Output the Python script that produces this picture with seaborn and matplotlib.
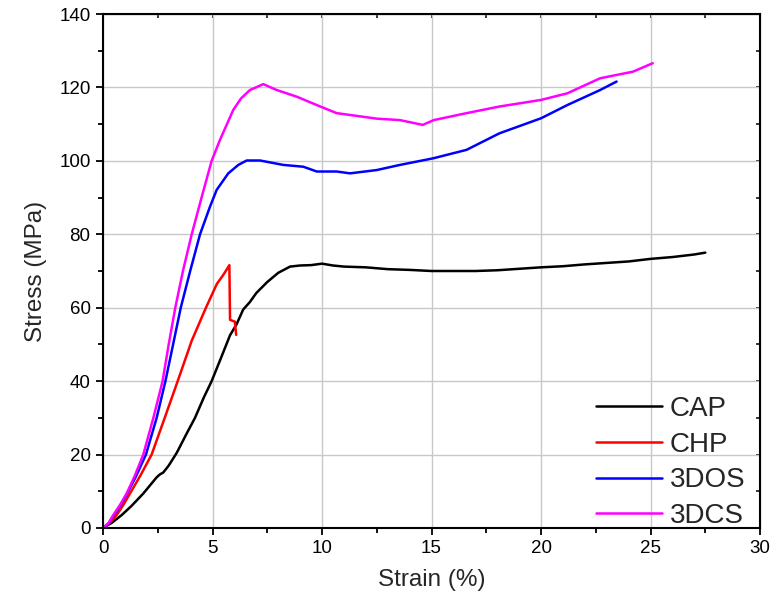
import pandas as pd
import matplotlib
matplotlib.use("Agg")
import matplotlib.pyplot as plt
import seaborn as sns
from matplotlib.ticker import MultipleLocator

# stress-strain curves
cap_strain = [0, 0.4, 0.85, 1.3, 1.84, 2.2, 2.45, 2.6, 2.75, 3.0, 3.37, 3.8, 4.2, 4.6, 4.96,
              5.4, 5.8, 6.1, 6.4, 6.7, 7.0, 7.5, 8.0, 8.54, 9.0, 9.5, 10.0, 10.5, 11, 12, 13,
              14, 15, 16, 17, 18, 19, 20, 21, 22, 23, 24, 25, 26, 27, 27.5]
cap_stress = [0, 1.4, 3.5, 6, 9.4, 12, 13.8, 14.6, 15.1, 17, 20.5, 25.5, 30, 35.5, 40,
              46.5, 52.5, 55.5, 59.5, 61.5, 64, 67, 69.5, 71.2, 71.5, 71.6, 72, 71.5, 71.2, 71, 70.5,
              70.3, 70, 70, 70, 70.2, 70.6, 71, 71.3, 71.8, 72.2, 72.6, 73.3, 73.8, 74.5, 75]

chp_strain = [0, 0.3, 0.62, 0.9, 1.23, 1.7, 2.22, 2.8, 3.41, 4.05, 4.7, 5.2, 5.5,
              5.77, 5.8, 6.02, 6.08]
chp_stress = [0, 1.3, 3.5, 6, 9.4, 14.2, 20, 29.7, 40, 51, 60, 66.5, 69,
              71.6, 56.7, 56.2, 52.6]

dos_strain = [0, 0.25, 0.47, 0.8, 1.1, 1.5, 1.96, 2.45, 2.85, 3.2, 3.55, 3.98, 4.43, 4.89,
              5.19, 5.72, 6.18, 6.56, 7.17, 8.23, 9.15, 9.76, 10.67, 11.28, 12.5, 13.56,
              15.08, 16.6, 18.1, 20.0, 21.2, 22.7, 23.45]
dos_stress = [0, 1.2, 3.3, 6.2, 9.4, 14, 20, 30, 40, 50, 60, 70, 80, 87.6,
              92.1, 96.6, 98.9, 100.1, 100.1, 98.9, 98.4, 97.1, 97.1, 96.6, 97.5, 98.9,
              100.7, 103, 107.5, 111.6, 115.2, 119.3, 121.6]

dcs_strain = [0, 0.25, 0.47, 0.78, 1.08, 1.45, 1.84, 2.3, 2.72, 3.0, 3.3, 3.65, 4.05, 4.5,
              4.96, 5.34, 5.95, 6.3, 6.71, 7.32, 7.93, 8.84, 9.76, 10.67, 11.28, 12.5, 13.56,
              14.6, 15.1, 16.6, 18.1, 20.0, 21.2, 22.7, 24.2, 25.1]
dcs_stress = [0, 1.3, 3.5, 6.3, 9.4, 14.2, 20, 30, 40, 50, 60, 70, 80, 90,
              100, 105.7, 113.9, 117, 119.3, 120.9, 119.3, 117.5, 115.2, 113, 112.5, 111.5, 111.1,
              109.8, 111.1, 113, 114.8, 116.6, 118.4, 122.5, 124.3, 126.6]

names = ["CAP", "CHP", "3DOS", "3DCS"]
colors = ["#000000", "#ff0000", "#0000ff", "#ff00ff"]

frames = []
for name, xs, ys in zip(names,
                        [cap_strain, chp_strain, dos_strain, dcs_strain],
                        [cap_stress, chp_stress, dos_stress, dcs_stress]):
    frames.append(pd.DataFrame({"Strain": xs, "Stress": ys, "Sample": name}))
df = pd.concat(frames, ignore_index=True)

sns.set_style("ticks")
plt.rcParams["font.family"] = ["Liberation Sans", "DejaVu Sans"]

fig = plt.figure(figsize=(7.78, 6.15), dpi=100)
ax = fig.add_axes([0.1324, 0.1415, 0.8445, 0.8357])

sns.lineplot(data=df, x="Strain", y="Stress", hue="Sample", hue_order=names,
             palette=dict(zip(names, colors)), estimator=None, sort=False,
             linewidth=1.8, ax=ax)

ax.set_xlim(0, 30)
ax.set_ylim(0, 140)
ax.xaxis.set_major_locator(MultipleLocator(5))
ax.xaxis.set_minor_locator(MultipleLocator(2.5))
ax.yaxis.set_major_locator(MultipleLocator(20))
ax.yaxis.set_minor_locator(MultipleLocator(10))
ax.grid(True, which="major", color="#c8c8c8", linewidth=1.0)
ax.set_axisbelow(True)

for s in ax.spines.values():
    s.set_visible(True)
    s.set_linewidth(1.5)
    s.set_color("black")

ax.tick_params(which="both", direction="out", width=1.3, labelsize=13.5, colors="black",
               top=False, right=False)
ax.tick_params(which="major", length=5)
ax.tick_params(which="minor", length=3.5)
ax.tick_params(axis="both", pad=4)

# inward ticks on top and right
ax_t = ax.secondary_xaxis("top")
ax_t.xaxis.set_major_locator(MultipleLocator(2.5))
ax_t.tick_params(direction="in", length=3, width=1.3, labeltop=False)
ax_r = ax.secondary_yaxis("right")
ax_r.yaxis.set_major_locator(MultipleLocator(10))
ax_r.tick_params(direction="in", length=3, width=1.3, labelright=False)

ax.set_xlabel("Strain (%)", fontsize=17.5, labelpad=8)
ax.set_ylabel("Stress (MPa)", fontsize=17.5, labelpad=9)

ax.legend(loc="lower right", bbox_to_anchor=(0.978, -0.002), frameon=False, fontsize=20,
          handlelength=2.35, handletextpad=0.3, labelspacing=0.35, borderaxespad=0,
          borderpad=0)

fig.savefig("out.png", dpi=100)
